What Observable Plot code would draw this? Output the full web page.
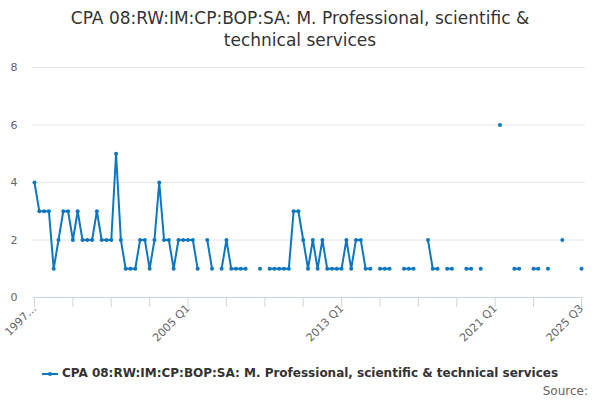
<!DOCTYPE html>
<html>
<head>
<meta charset="utf-8">
<script src="https://cdn.jsdelivr.net/npm/d3@7"></script>
<script src="https://cdn.jsdelivr.net/npm/@observablehq/plot@0.6"></script>
<style>
  html, body { margin: 0; padding: 0; background: #fff; }
  body { width: 600px; height: 400px; overflow: hidden; font-family: "DejaVu Sans", sans-serif; }
  #title { height: 56px; text-align: center; color: #333; font-size: 17px; line-height: 22px; padding-top: 7px; box-sizing: border-box; }
  #legend { position: absolute; top: 366px; left: 0; width: 600px; text-align: center; font-size: 12px; font-weight: bold; color: #333; }
  #legend svg { vertical-align: middle; margin-right: 4px; }
  #source { position: absolute; top: 384px; right: 12px; font-size: 12px; color: #666; }
</style>
</head>
<body>
<div id="title">CPA 08:RW:IM:CP:BOP:SA: M. Professional, scientific &amp;<br>technical services</div>
<div id="chart"></div>
<div id="legend"></div>
<div id="source">Source:</div>
<script>
// Quarterly categories 1997 Q1 .. 2025 Q3
const years = d3.range(1997, 2026);
const quarterNames = ["Q1", "Q2", "Q3", "Q4"];
const quarters = years.flatMap(y => quarterNames.map(q => `${y} ${q}`)).slice(0, 115);

// Values (null = missing)
const values = [
  4, 3, 3, 3, 1, 2, 3, 3, 2, 3,
  2, 2, 2, 3, 2, 2, 2, 5, 2, 1,
  1, 1, 2, 2, 1, 2, 4, 2, 2, 1,
  2, 2, 2, 2, 1, null, 2, 1, null, 1,
  2, 1, 1, 1, 1, null, null, 1, null, 1,
  1, 1, 1, 1, 3, 3, 2, 1, 2, 1,
  2, 1, 1, 1, 1, 2, 1, 2, 2, 1,
  1, null, 1, 1, 1, null, null, 1, 1, 1,
  null, null, 2, 1, 1, null, 1, 1, null, null,
  1, 1, null, 1, null, null, null, 6, null, null,
  1, 1, null, null, 1, 1, null, 1, null, null,
  2, null, null, null, 1
];

const seriesName = "CPA 08:RW:IM:CP:BOP:SA: M. Professional, scientific & technical services";
const yTicks = [0, 2, 4, 6, 8];
const tickQuarters = ["1997 Q1","1999 Q1","2001 Q1","2003 Q1","2005 Q1","2007 Q1","2009 Q1","2011 Q1","2013 Q1","2015 Q1","2017 Q1","2019 Q1","2021 Q1","2023 Q1","2025 Q3"];
const labelMap = new Map([["1997 Q1", "1997…"], ["2005 Q1", "2005 Q1"], ["2013 Q1", "2013 Q1"], ["2021 Q1", "2021 Q1"], ["2025 Q3", "2025 Q3"]]);
const labelQuarters = [...labelMap.keys()];

const data = quarters.map((q, i) => ({quarter: q, value: values[i]}));
const color = "#0c77c2";

const plot = Plot.plot({
  width: 600,
  height: 300,
  marginTop: 11,
  marginBottom: 59,
  marginLeft: 34,
  marginRight: 19,
  style: {fontFamily: "DejaVu Sans, sans-serif", fontSize: "11px", background: "#fff"},
  x: {type: "point", domain: quarters, padding: 0},
  y: {domain: [0, 8]},
  marks: [
    Plot.ruleY(yTicks.slice(1), {stroke: "#e6e6e6", strokeWidth: 1, insetLeft: -2, insetRight: -4}),
    Plot.axisY(yTicks, {tickSize: 0, tickPadding: 17, fill: "#666", fontSize: 11, label: null}),
    Plot.ruleY([0], {stroke: "#ccd6eb", strokeWidth: 1, insetLeft: -1, insetRight: -2}),
    Plot.axisX(tickQuarters, {tickSize: 10, stroke: "#ccd6eb", strokeOpacity: 1, text: null, label: null}),
    Plot.axisX(labelQuarters, {tickSize: 0, tickPadding: 9, tickRotate: -45, fill: "#666", fontSize: 11, label: null, tickFormat: d => labelMap.get(d)}),
    Plot.line(data, {x: "quarter", y: "value", stroke: color, strokeWidth: 2}),
    Plot.dot(data.filter(d => d.value != null), {x: "quarter", y: "value", fill: color, r: 2})
  ]
});
document.getElementById("chart").appendChild(plot);

const leg = document.getElementById("legend");
leg.innerHTML = `<svg width="16" height="10"><line x1="0" y1="5" x2="16" y2="5" stroke="${color}" stroke-width="2"/><circle cx="8" cy="5" r="2" fill="${color}"/></svg>`;
leg.appendChild(document.createTextNode(seriesName));
</script>
</body>
</html>
